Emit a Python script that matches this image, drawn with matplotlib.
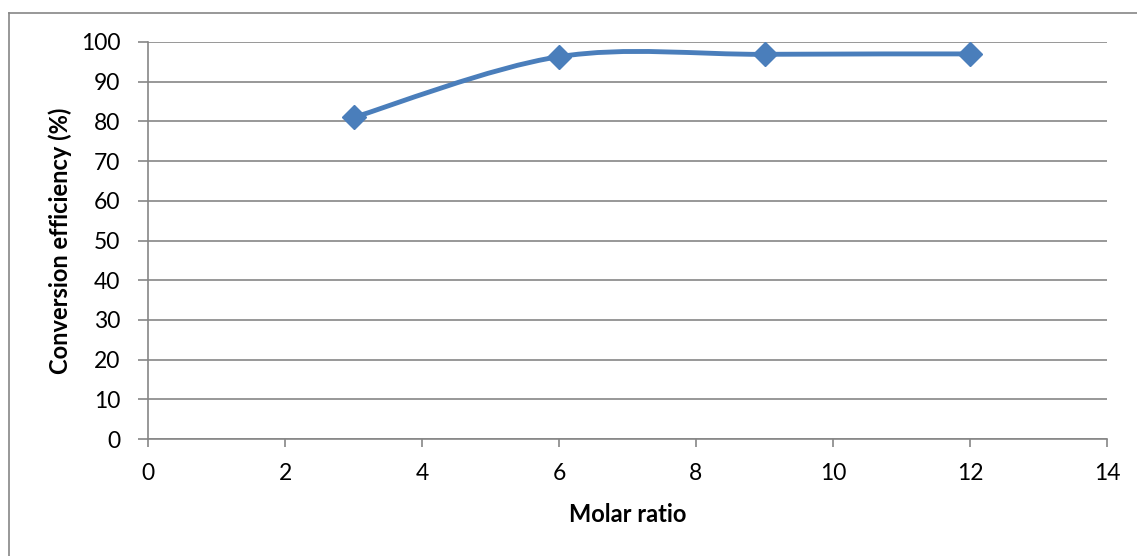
import matplotlib.pyplot as plt
from matplotlib.path import Path
from matplotlib.patches import PathPatch
from matplotlib.lines import Line2D

plt.rcParams['font.family'] = ['Lato', 'DejaVu Sans']

molar_ratio = [3, 6, 9, 12]
efficiency = [81.0, 96.3, 96.9, 97.0]

x_ticks = [0, 2, 4, 6, 8, 10, 12, 14]
y_ticks = [0, 10, 20, 30, 40, 50, 60, 70, 80, 90, 100]

blue = '#4a7ebb'
grey = '#868686'

fig = plt.figure(figsize=(11.37, 5.56), dpi=100)
ax = fig.add_axes([148 / 1137, 1 - 439 / 556, (1107 - 148) / 1137, (439 - 42) / 556])

# smoothed line, Bezier segments like a spreadsheet "smooth line"
pts = list(zip(molar_ratio, efficiency))
verts = [pts[0]]
codes = [Path.MOVETO]
n = len(pts)
for i in range(n - 1):
    p0 = pts[i - 1] if i > 0 else pts[i]
    p1 = pts[i]
    p2 = pts[i + 1]
    p3 = pts[i + 2] if i + 2 < n else pts[i + 1]
    c1 = (p1[0] + (p2[0] - p0[0]) / 6, p1[1] + (p2[1] - p0[1]) / 6)
    c2 = (p2[0] - (p3[0] - p1[0]) / 6, p2[1] - (p3[1] - p1[1]) / 6)
    verts += [c1, c2, p2]
    codes += [Path.CURVE4] * 3
ax.add_patch(PathPatch(Path(verts, codes), facecolor='none', edgecolor=blue,
                       lw=3.5, capstyle='round', joinstyle='round', zorder=3))
ax.plot(molar_ratio, efficiency, linestyle='none', marker='D', markersize=12,
        color=blue, zorder=4)

ax.set_xlim(0, 14)
ax.set_ylim(0, 100)
ax.set_xticks(x_ticks)
ax.set_yticks(y_ticks)
ax.grid(axis='y', color=grey, lw=1.2)
ax.set_axisbelow(True)
for side in ['top', 'right']:
    ax.spines[side].set_visible(False)
for side in ['left', 'bottom']:
    ax.spines[side].set_color(grey)
    ax.spines[side].set_linewidth(1.2)
ax.tick_params(axis='both', colors=grey, labelcolor='black', labelsize=16.5,
               direction='out', width=1.2)
ax.tick_params(axis='y', length=7, pad=13)
ax.tick_params(axis='x', length=6, pad=11)

ax.set_xlabel('Molar ratio', fontsize=17, fontweight='bold', labelpad=14)
ax.set_ylabel('Conversion efficiency (%)', fontsize=17, fontweight='bold', labelpad=6)

# chart area border
fig.add_artist(Line2D([9 / 1137, 1], [1 - 13 / 556] * 2, color=grey, lw=1.2))
fig.add_artist(Line2D([9 / 1137] * 2, [0, 1 - 13 / 556], color=grey, lw=1.2))

fig.savefig('out.png', dpi=100)
